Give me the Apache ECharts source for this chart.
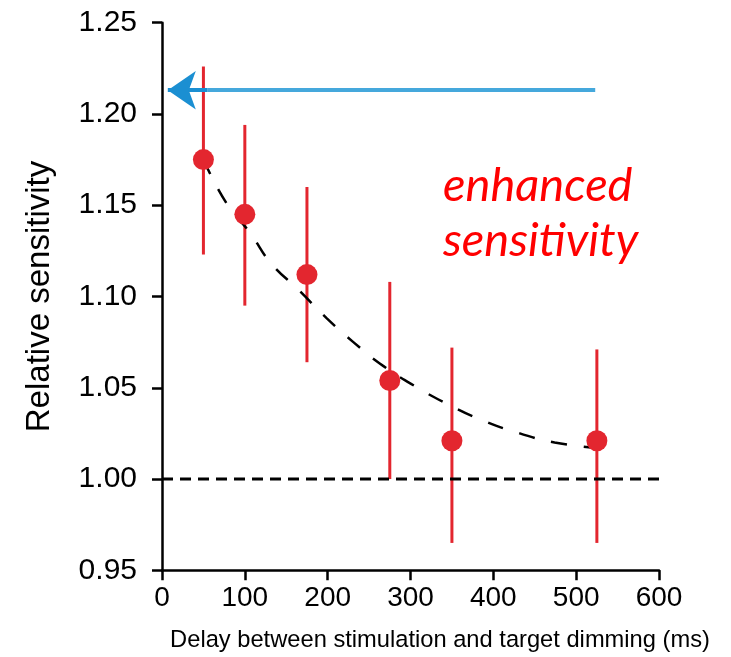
<!DOCTYPE html>
<html><head><meta charset="utf-8">
<script src="https://cdn.jsdelivr.net/npm/echarts@6/dist/echarts.min.js"></script>
<style>html,body{margin:0;padding:0;background:#fff}#c{width:731px;height:657px}</style>
</head><body><div id="c"></div>
<script>
// ---- data ----
const delays = [50, 100, 175, 275, 350, 525];
const sensitivity = [1.175, 1.145, 1.112, 1.054, 1.021, 1.021];
const errUpper = [1.226, 1.194, 1.160, 1.108, 1.072, 1.071];
const errLower = [1.123, 1.095, 1.064, 1.000, 0.965, 0.965];
const fitX = [50, 78, 106, 132, 164, 199, 231, 267, 305, 345, 388, 432, 474, 525];
const fitY = [1.175, 1.151, 1.135, 1.118, 1.104, 1.088, 1.075, 1.062, 1.051, 1.041, 1.032, 1.025, 1.020, 1.017];
const baselineValue = 1.0;
const arrowLevel = 1.213;
const arrowStartX = 523, arrowDarkX = 55, arrowTipX = 7;
const xTickLabels = ['0', '100', '200', '300', '400', '500', '600'];
const yTickLabels = ['0.95', '1.00', '1.05', '1.10', '1.15', '1.20', '1.25'];
const xTitle = 'Delay between stimulation and target dimming (ms)';
const yTitle = 'Relative sensitivity';
const noteLines = ['enhanced', 'sensitivity'];

const xMin = +xTickLabels[0], xMax = +xTickLabels[xTickLabels.length - 1];
const yMin = +yTickLabels[0], yMax = +yTickLabels[yTickLabels.length - 1];

const RED = '#e3262f';
const FONT = 'Liberation Sans, Arial, sans-serif';
const NOTE_FONT = 'italic 47px Lato, "Open Sans", sans-serif';

const chart = echarts.init(document.getElementById('c'), null, { renderer: 'canvas' });
chart.setOption({
  animation: false,
  backgroundColor: '#fff',
  grid: { left: 162, top: 22.7, width: 497, height: 547.6 },
  xAxis: {
    type: 'value', min: xMin, max: xMax, interval: 100,
    axisLine: { show: true, lineStyle: { color: '#000', width: 2.5 } },
    axisTick: { show: true, length: 10, lineStyle: { color: '#000', width: 2.5 } },
    splitLine: { show: false },
    axisLabel: { fontSize: 28, color: '#000', fontFamily: FONT, margin: 14,
      formatter: v => xTickLabels[Math.round((v - xMin) / 100)] }
  },
  yAxis: {
    type: 'value', min: yMin, max: yMax, interval: 0.05,
    axisLine: { show: true, lineStyle: { color: '#000', width: 2.5 } },
    axisTick: { show: true, length: 10, lineStyle: { color: '#000', width: 2.5 } },
    splitLine: { show: false },
    axisLabel: { fontSize: 30, color: '#000', fontFamily: FONT, margin: 25,
      formatter: v => yTickLabels[Math.round((v - yMin) / 0.05)] },
    name: yTitle, nameLocation: 'middle', nameGap: 106,
    nameTextStyle: { fontSize: 33, color: '#000', fontFamily: FONT }
  },
  graphic: [
    { type: 'text', x: 440, y: 640, style: { text: xTitle, fill: '#000', font: '23.7px ' + FONT, textAlign: 'center', textVerticalAlign: 'middle' } },
    { type: 'text', x: 443, y: 186, style: { text: noteLines[0], fill: '#ff0000', font: NOTE_FONT, textAlign: 'left', textVerticalAlign: 'middle' } },
    { type: 'text', x: 443, y: 241, style: { text: noteLines[1], fill: '#ff0000', font: NOTE_FONT, textAlign: 'left', textVerticalAlign: 'middle' } }
  ],
  series: [
    {
      type: 'custom', z: 2, silent: true,
      data: delays.map((d, i) => [d, errLower[i], errUpper[i]]),
      encode: { x: 0, y: [1, 2] },
      renderItem: (params, api) => {
        const p1 = api.coord([api.value(0), api.value(2)]);
        const p2 = api.coord([api.value(0), api.value(1)]);
        return { type: 'line', shape: { x1: p1[0], y1: p1[1], x2: p2[0], y2: p2[1] },
          style: { stroke: RED, lineWidth: 3 } };
      }
    },
    {
      type: 'line', z: 3, silent: true, smooth: true, symbol: 'none',
      data: fitX.map((x, i) => [x, fitY[i]]),
      lineStyle: { color: '#000', width: 2.5, type: [16, 17] }
    },
    {
      type: 'scatter', z: 4, silent: true, symbol: 'circle', symbolSize: 21,
      itemStyle: { color: RED, opacity: 1 },
      data: delays.map((d, i) => [d, sensitivity[i]])
    },
    {
      type: 'line', z: 5, silent: true, symbol: 'none',
      data: [[xMin, baselineValue], [xMax, baselineValue]],
      lineStyle: { color: '#000', width: 3, type: [11, 7] },
      markLine: {
        silent: true, animation: false, symbol: ['none', 'none'],
        label: { show: false },
        data: [
          [ { coord: [arrowStartX, arrowLevel], lineStyle: { color: '#45a8dc', width: 4, type: 'solid' } },
            { coord: [arrowDarkX, arrowLevel] } ],
          [ { coord: [arrowDarkX, arrowLevel], lineStyle: { color: '#1b8fd2', width: 4, type: 'solid' }, symbol: 'none' },
            { coord: [arrowTipX, arrowLevel], symbol: 'arrow', symbolSize: [29, 28] } ]
        ]
      }
    }
  ]
});
</script>
</body></html>
